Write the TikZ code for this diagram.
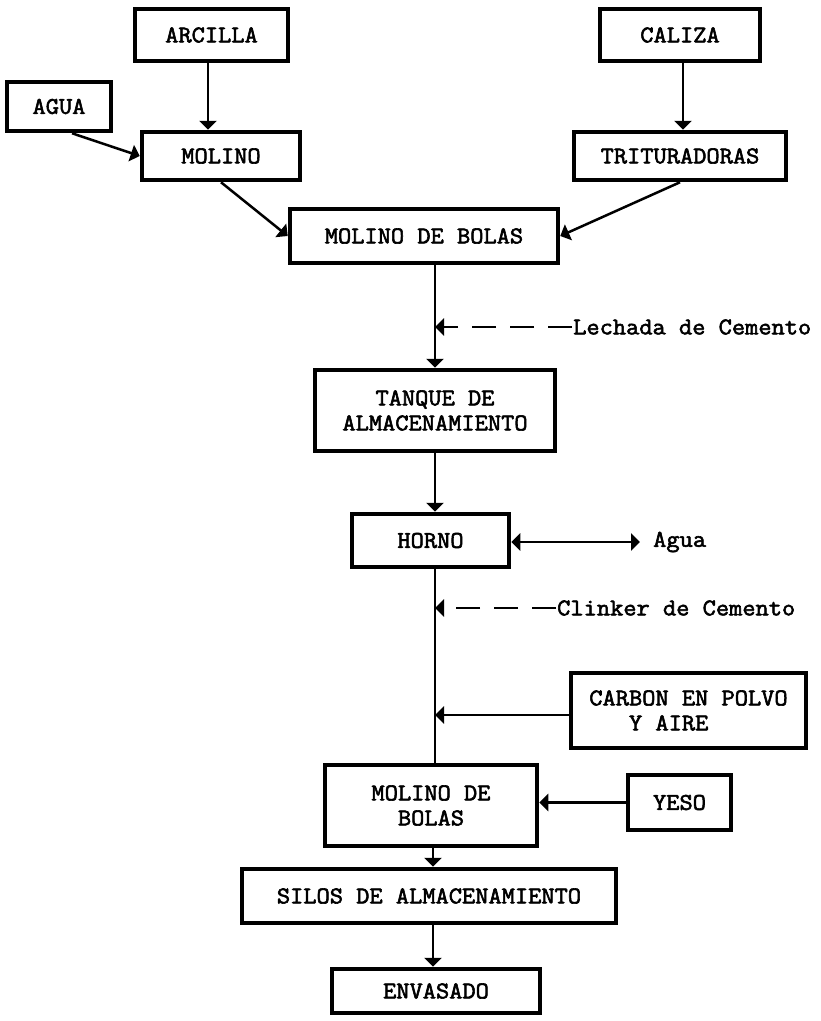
\documentclass[tikz,border=0pt]{standalone}
\usepackage{fontspec}
\setmonofont{Latin Modern Mono}[AutoFakeBold=2.4, FakeStretch=1.07]
\usetikzlibrary{arrows.meta}
\begin{document}
\begin{tikzpicture}[x=1pt,y=-1pt,
  box/.style={draw, line width=4.5pt, font=\ttfamily\bfseries\fontsize{24}{25}\selectfont, align=center, inner sep=0pt},
  lbl/.style={font=\ttfamily\bfseries\fontsize{24}{25}\selectfont, inner sep=1pt, anchor=west},
  conn/.style={line width=2.5pt, -{Triangle[width=17pt 0,length=9pt 0]}},
  plain/.style={line width=2.5pt},
  dashconn/.style={conn, dash pattern=on 24pt off 14pt}]
\useasboundingbox (0,0) rectangle (821,1021);
% boxes
\node[box, minimum width=153pt, minimum height=52pt] (arcilla) at (211.5,35) {ARCILLA};
\node[box, minimum width=104pt, minimum height=49pt] (agua) at (59,106.5) {AGUA};
\node[box, minimum width=158pt, minimum height=48pt] (molino) at (221,156) {MOLINO};
\node[box, minimum width=160pt, minimum height=52pt] (caliza) at (680,35) {CALIZA};
\node[box, minimum width=212pt, minimum height=48pt] (trit) at (680,156) {TRITURADORAS};
\node[box, minimum width=268pt, minimum height=54pt] (mdb) at (424,236) {MOLINO DE BOLAS};
\node[box, minimum width=240pt, minimum height=81pt] (tanque) at (435,410.5) {TANQUE DE\\ALMACENAMIENTO};
\node[box, minimum width=157pt, minimum height=53pt] (horno) at (430.5,540.5) {HORNO};
\node[box, minimum width=235pt, minimum height=75pt, align=left] (carbon) at (688.5,710.5) {CARBON EN POLVO\\\phantom{CAR}Y AIRE};
\node[box, minimum width=212pt, minimum height=81pt] (molino2) at (431,805.5) {MOLINO DE\\BOLAS};
\node[box, minimum width=103pt, minimum height=55pt] (yeso) at (679.5,802.5) {YESO};
\node[box, minimum width=374pt, minimum height=54pt] (silos) at (429,896) {SILOS DE ALMACENAMIENTO};
\node[box, minimum width=208pt, minimum height=44pt] (envasado) at (436,991) {ENVASADO};
% labels
\node[lbl] (lech) at (572,327) {Lechada de Cemento};
\node[lbl] (aguatxt) at (652,542) {Agua};
\node[lbl] (clink) at (556,608) {Clinker de Cemento};
% points on the main line
\coordinate (lechp) at (435,327);
\coordinate (clinkp) at (435,608);
\coordinate (carbp) at (435,715);
\coordinate (aguaend) at (640,542);
% connectors
\draw[conn] (arcilla.south -| 208,0) -- (molino.north -| 208,0);
\draw[conn] (caliza.south -| 683,0) -- (trit.north -| 683,0);
\draw[conn] ([xshift=13pt]agua.south) -- (molino.west);
\draw[conn] (molino.south) -- (mdb.west);
\draw[conn] (trit.south) -- (mdb.east);
\draw[conn] (mdb.south -| lechp) -- (tanque.north -| lechp);
\draw[dashconn] (lech.west) -- (lechp);
\draw[conn] (tanque.south -| lechp) -- (horno.north -| lechp);
\draw[line width=2.5pt, {Triangle[width=17pt 0,length=9pt 0]}-{Triangle[width=17pt 0,length=9pt 0]}] (horno.east |- aguaend) -- (aguaend);
\draw[plain] (horno.south -| lechp) -- (molino2.north -| lechp);
\draw[dashconn] (clink.west) -- (clinkp);
\draw[conn] (carbon.west |- carbp) -- (carbp);
\draw[conn] (yeso.west) -- (molino2.east |- yeso.west);
\draw[conn] (molino2.south -| 433,0) -- (silos.north -| 433,0);
\draw[conn] (silos.south -| 433,0) -- (envasado.north -| 433,0);
\end{tikzpicture}
\end{document}
